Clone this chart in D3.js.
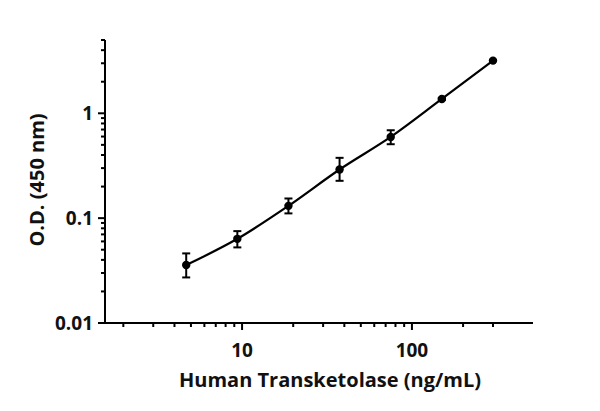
<!DOCTYPE html>
<html><head><meta charset="utf-8">
<script src="https://cdn.jsdelivr.net/npm/d3@7"></script>
<style>body{margin:0;background:#fff}svg{display:block}text{font-family:"Open Sans",sans-serif;font-weight:700;fill:#111}</style>
</head><body>
<script>
const concentrations = [4.69, 9.38, 18.75, 37.5, 75, 150, 300];
const odMean = [0.0357, 0.0635, 0.131, 0.291, 0.595, 1.37, 3.18];
const odHigh = [0.0461, 0.0752, 0.154, 0.376, 0.689, 1.40, 3.22];
const odLow  = [0.0272, 0.0526, 0.111, 0.227, 0.507, 1.34, 3.14];
const xMajorTicks = [10, 100];
const xMinorTicks = [2,3,4,5,6,7,8,9,20,30,40,50,60,70,80,90,200,300];
const yMajorTicks = [0.01, 0.1, 1];
const yMinorTicks = [0.02,0.03,0.04,0.05,0.06,0.07,0.08,0.09,0.2,0.3,0.4,0.5,0.6,0.7,0.8,0.9,2,3,4,5];
const xTitle = "Human Transketolase (ng/mL)";
const yTitle = "O.D. (450 nm)";

const W = 600, H = 411;
const svg = d3.select("body").append("svg").attr("width", W).attr("height", H);

const x = d3.scaleLog().domain([1.56, 516]).range([105, 533]);
const y = d3.scaleLog().domain([0.01, 5]).range([323, 40]);

const g = svg.append("g");
// axes lines
const axX = g.append("g").attr("transform", "translate(0,323)");
axX.append("line").attr("x1", 100).attr("x2", 533).attr("stroke", "#000").attr("stroke-width", 2);
axX.selectAll(".maj").data(xMajorTicks).join("line")
  .attr("x1", d => x(d)).attr("x2", d => x(d)).attr("y1", 0).attr("y2", 7)
  .attr("stroke", "#000").attr("stroke-width", 2);
axX.selectAll(".min").data(xMinorTicks).join("line")
  .attr("x1", d => x(d)).attr("x2", d => x(d)).attr("y1", 0).attr("y2", 4)
  .attr("stroke", "#000").attr("stroke-width", 2);
axX.selectAll("text").data(xMajorTicks).join("text")
  .attr("x", d => x(d)).attr("y", 34).attr("text-anchor", "middle")
  .style("font-size", "19px").text(d => d3.format("d")(d));

const axY = g.append("g").attr("transform", "translate(105,0)");
axY.append("line").attr("y1", 40).attr("y2", 324).attr("stroke", "#000").attr("stroke-width", 2);
axY.selectAll(".maj").data(yMajorTicks).join("line")
  .attr("y1", d => y(d)).attr("y2", d => y(d)).attr("x1", 0).attr("x2", -7)
  .attr("stroke", "#000").attr("stroke-width", 2);
axY.selectAll(".min").data(yMinorTicks).join("line")
  .attr("y1", d => y(d)).attr("y2", d => y(d)).attr("x1", 0).attr("x2", -4)
  .attr("stroke", "#000").attr("stroke-width", 2);
axY.selectAll("text").data(yMajorTicks).join("text")
  .attr("x", -12).attr("y", d => y(d)).attr("dy", "0.36em").attr("text-anchor", "end")
  .style("font-size", "19px").text(d => d >= 1 ? "1" : d3.format(".2~f")(d));

// titles
svg.append("text").attr("x", 330).attr("y", 387).attr("text-anchor", "middle")
  .style("font-size", "20px").text(xTitle);
svg.append("text").attr("transform", "translate(44,180) rotate(-90)").attr("text-anchor", "middle")
  .style("font-size", "20px").text(yTitle);

// data
const pts = concentrations.map((c, i) => ({c, m: odMean[i], hi: odHigh[i], lo: odLow[i]}));
const line = d3.line().x(d => x(d.c)).y(d => y(d.m)).curve(d3.curveMonotoneX);
svg.append("path").datum(pts).attr("d", line).attr("fill", "none").attr("stroke", "#000").attr("stroke-width", 2.2);

const eb = svg.append("g").attr("stroke", "#000").attr("stroke-width", 2);
pts.forEach(d => {
  eb.append("line").attr("x1", x(d.c)).attr("x2", x(d.c)).attr("y1", y(d.hi)).attr("y2", y(d.lo));
  eb.append("line").attr("x1", x(d.c) - 4).attr("x2", x(d.c) + 4).attr("y1", y(d.hi)).attr("y2", y(d.hi));
  eb.append("line").attr("x1", x(d.c) - 4).attr("x2", x(d.c) + 4).attr("y1", y(d.lo)).attr("y2", y(d.lo));
});
svg.append("g").selectAll("circle").data(pts).join("circle")
  .attr("cx", d => x(d.c)).attr("cy", d => y(d.m)).attr("r", 4.2).attr("fill", "#000");
</script>
</body></html>
